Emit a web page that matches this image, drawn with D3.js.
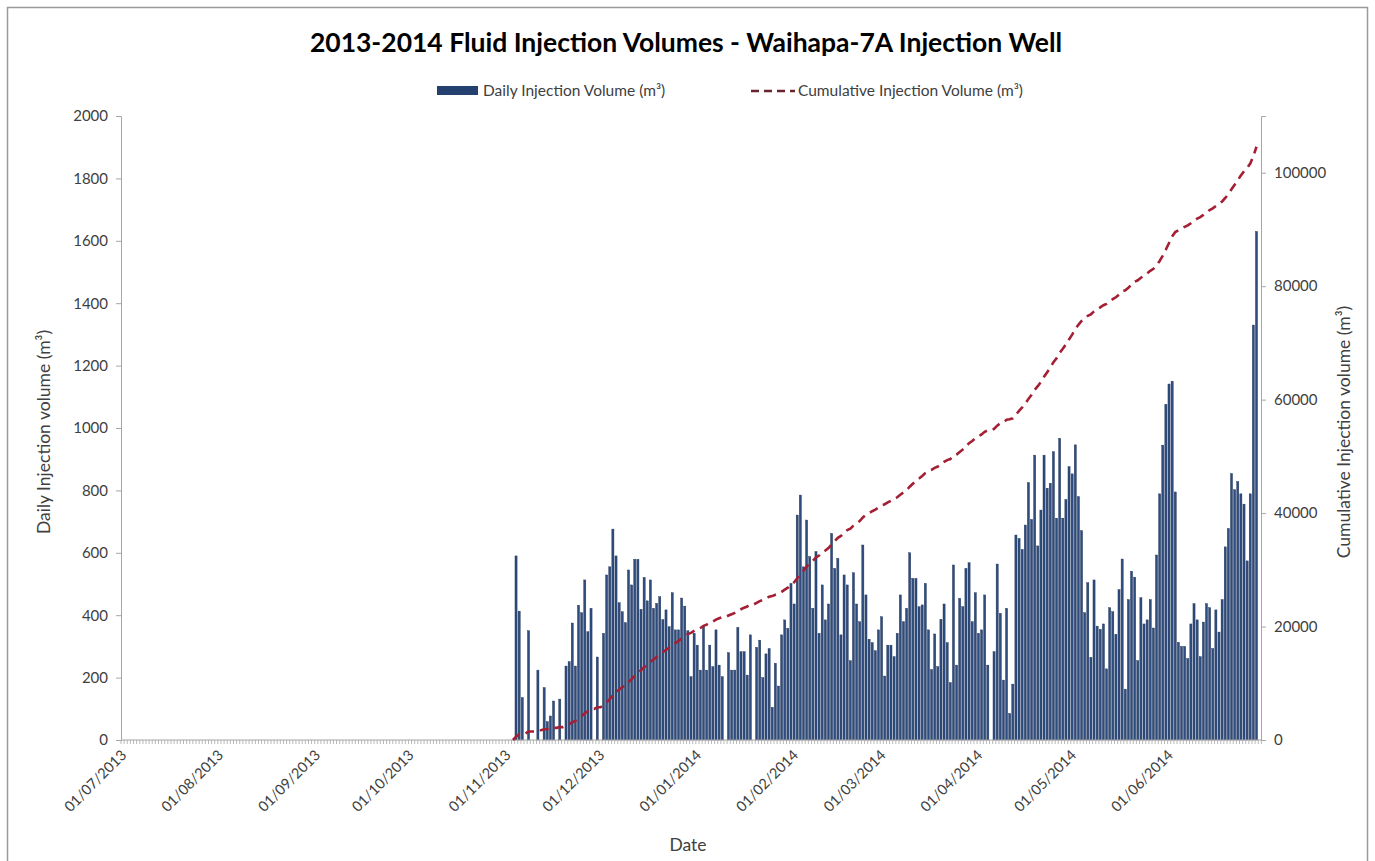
<!DOCTYPE html>
<html><head><meta charset="utf-8">
<script src="https://cdn.jsdelivr.net/npm/d3@7"></script>
<style>
body{margin:0;background:#fff}
text{font-family:Lato,'Open Sans','Noto Sans',sans-serif}
</style>
</head><body>
<svg id="chart" width="1375" height="861"></svg>
<script>
// ---- data (m³ per day) ----
const startDate = new Date(2013, 6, 1);   // 01/07/2013
const endDate = new Date(2014, 6, 1);     // axis runs to 30/06/2014
const injectionStart = new Date(2013, 10, 1); // values below start 01/11/2013; earlier days are 0
const nov2013 = [0,0,0,590,413,136,0,350,0,0,224,0,168,59,77,125,0,131,0,237,251,375,237,432,408,513,347,422,0,266];
const dec2013 = [0,342,529,555,676,590,440,411,376,545,497,579,579,419,521,446,513,422,438,459,386,417,363,472,353,353,455,429,350,203,342];
const jan2014 = [304,224,365,224,304,235,353,240,203,0,280,224,224,361,283,283,208,337,0,297,320,200,276,293,105,246,173,337,385,358,502];
const feb2014 = [436,721,785,555,705,588,422,604,342,497,385,436,662,550,582,337,529,497,254,536,436,379,625,465,323,312,286,353];
const mar2014 = [395,205,304,304,267,342,465,379,422,600,518,518,427,433,502,353,226,340,235,387,436,312,184,561,240,454,427,550,568,379,472];
const apr2014 = [342,353,465,240,0,283,564,406,192,422,85,179,657,646,611,689,825,707,913,622,737,913,807,823,924,711,967,711,771,876];
const may2014 = [853,946,780,671,408,504,265,513,365,355,372,228,424,411,339,482,580,163,450,541,522,254,456,372,385,450,359,593,789,945,1076];
const jun2014 = [1141,1150,795,313,300,300,261,372,437,385,267,378,437,424,293,417,346,450,619,678,854,802,828,789,756,574,789,1330,1630,0];
const leftTicks = [0,200,400,600,800,1000,1200,1400,1600,1800,2000];
const rightTicks = [0,20000,40000,60000,80000,100000];
const monthLabels = ["01/07/2013","01/08/2013","01/09/2013","01/10/2013","01/11/2013","01/12/2013","01/01/2014","01/02/2014","01/03/2014","01/04/2014","01/05/2014","01/06/2014"];
const titleText = "2013-2014 Fluid Injection Volumes - Waihapa-7A Injection Well";
const dailyLabel = "Daily Injection Volume (m³)";
const cumLabel = "Cumulative Injection Volume (m³)";

// ---- build series ----
const days = d3.timeDay.range(startDate, endDate);
const measured = [].concat(nov2013, dec2013, jan2014, feb2014, mar2014, apr2014, may2014, jun2014);
const offset = d3.timeDay.count(startDate, injectionStart);
const daily = days.map((d, i) => i < offset ? 0 : (measured[i - offset] || 0));
const cumulative = Array.from(d3.cumsum(daily));
const firstIdx = daily.findIndex(v => v > 0);
const lastIdx = d3.max(daily.map((v, i) => v > 0 ? i : 0));
const parseLabel = d3.timeParse("%d/%m/%Y");

// ---- layout ----
const plot = {left:121, right:1261, top:116, bottom:740};
const svg = d3.select("#chart");
const textColor = "#404040";
const axisColor = "#A6A6A6";

svg.append("rect").attr("x",7.5).attr("y",7.5).attr("width",1360).attr("height",880)
  .attr("fill","#fff").attr("stroke","#9a9a9a").attr("stroke-width",1.5);

const x = d3.scaleBand().domain(d3.range(days.length)).range([plot.left, plot.right]).paddingInner(0.32).paddingOuter(0.1);
const yL = d3.scaleLinear().domain([0,2000]).range([plot.bottom, plot.top]);
const yR = d3.scaleLinear().domain([0,110000]).range([plot.bottom, plot.top]);

// title
svg.append("text").attr("x",686).attr("y",52).attr("text-anchor","middle")
  .attr("font-size",26.5).attr("font-weight","bold").attr("fill","#000").text(titleText);

// legend
const lg = svg.append("g");
lg.append("rect").attr("x",437).attr("y",86).attr("width",41).attr("height",9).attr("fill","#24406E");
lg.append("text").attr("x",483).attr("y",96).attr("font-size",15.5).attr("fill",textColor).text(dailyLabel);
lg.append("line").attr("x1",751).attr("x2",795).attr("y1",91).attr("y2",91)
  .attr("stroke","#6a2430").attr("stroke-width",2.5).attr("stroke-dasharray","8,5");
lg.append("text").attr("x",798).attr("y",96).attr("font-size",15.5).attr("fill",textColor).text(cumLabel);

// bars
svg.append("g").selectAll("rect").data(daily.map((v,i)=>({v,i})).filter(d=>d.v>0)).join("rect")
  .attr("x", d => x(d.i)).attr("width", x.bandwidth())
  .attr("y", d => yL(d.v)).attr("height", d => plot.bottom - yL(d.v))
  .attr("fill","#2E4C7E").attr("stroke","#1E3358").attr("stroke-width",0.4);

// axes
const axL = svg.append("g").attr("transform",`translate(${plot.left},0)`)
  .call(d3.axisLeft(yL).tickValues(leftTicks).tickSize(5).tickPadding(8).tickFormat(d3.format("d")));
const axR = svg.append("g").attr("transform",`translate(${plot.right},0)`)
  .call(d3.axisRight(yR).tickValues(rightTicks).tickSize(5).tickPadding(8).tickFormat(d3.format("d")));
[axL, axR].forEach(a => {
  a.select(".domain").attr("stroke",axisColor);
  a.selectAll(".tick line").attr("stroke",axisColor);
  a.selectAll(".tick text").attr("font-size",15).attr("fill",textColor).attr("font-family","Lato,'Open Sans',sans-serif");
});

// category axis with daily tick marks
const axB = svg.append("g").attr("transform",`translate(0,${plot.bottom})`);
axB.append("line").attr("x1",plot.left).attr("x2",plot.right).attr("stroke",axisColor).attr("stroke-width",1.2);
axB.selectAll("line.tk").data(d3.range(days.length+1)).join("line").attr("class","tk")
  .attr("x1", i => plot.left + i*x.step()).attr("x2", i => plot.left + i*x.step())
  .attr("y1",0).attr("y2",4).attr("stroke",axisColor).attr("stroke-width",0.8);
axB.selectAll("text").data(monthLabels).join("text")
  .attr("transform", l => {
    const i = d3.timeDay.count(startDate, parseLabel(l));
    return `translate(${x(i) + x.bandwidth()/2 + 5},16) rotate(-45)`;
  })
  .attr("text-anchor","end").attr("font-size",14.5).attr("fill",textColor).text(l => l);

// cumulative line
const line = d3.line().x(d => x(d.i) + x.bandwidth()/2).y(d => yR(d.c));
const linePts = cumulative.map((c,i)=>({c,i})).filter(d => d.i >= firstIdx - 1 && d.i <= lastIdx);
svg.append("path").datum(linePts).attr("d", line).attr("fill","none")
  .attr("stroke","#A51F34").attr("stroke-width",2.6).attr("stroke-dasharray","9,6");

// axis titles
svg.append("text").attr("transform","translate(50,432) rotate(-90)").attr("text-anchor","middle")
  .attr("font-size",17.5).attr("fill",textColor).text("Daily Injection volume (m³)");
svg.append("text").attr("transform","translate(1350,432) rotate(-90)").attr("text-anchor","middle")
  .attr("font-size",17.5).attr("fill",textColor).text("Cumulative Injection volume (m³)");
svg.append("text").attr("x",688).attr("y",851).attr("text-anchor","middle")
  .attr("font-size",17.5).attr("fill",textColor).text("Date");
</script>
</body></html>
